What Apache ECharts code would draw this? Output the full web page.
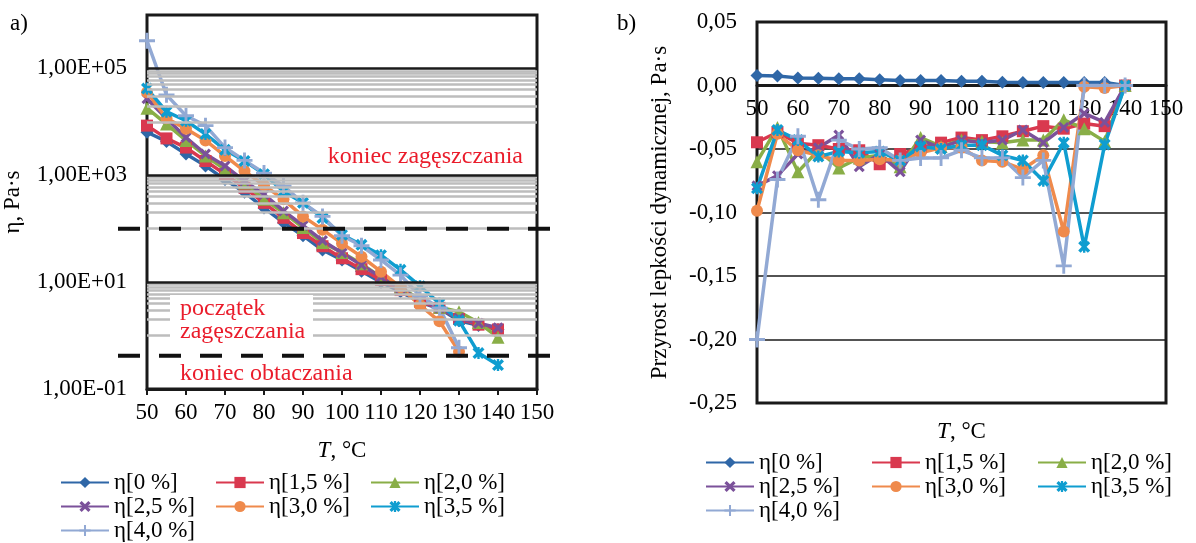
<!DOCTYPE html>
<html>
<head>
<meta charset="utf-8">
<script src="https://cdn.jsdelivr.net/npm/echarts@6/dist/echarts.min.js"></script>
<style>
  html, body { margin: 0; padding: 0; background: #fff; }
  #chart { width: 1196px; height: 543px; }
</style>
</head>
<body>
<div id="chart"></div>
<script>
// temperatura, °C
var temps = [50, 55, 60, 65, 70, 75, 80, 85, 90, 95, 100, 105, 110, 115, 120, 125, 130, 135, 140];

var seriesNames = ['η[0 %]', 'η[1,5 %]', 'η[2,0 %]', 'η[2,5 %]', 'η[3,0 %]', 'η[3,5 %]', 'η[4,0 %]'];

// a) lepkosc dynamiczna, Pa·s
var eta0  = [6400, 4300, 2500, 1500, 830, 480, 245, 130, 74, 40, 26, 16, 10, 6.6, 4.2, 3.2, 1.9, 1.55, 1.3];
var eta15 = [8500, 4900, 3300, 1850, 1050, 585, 305, 160, 83, 47, 28, 17.5, 11, 7.1, 4.3, 3.3, 2.05, 1.6, 1.3];
var eta20 = [18000, 9100, 4500, 2300, 1300, 720, 355, 200, 105, 55, 36, 22, 12.4, 8, 4.7, 3.4, 2.8, 1.75, 0.93];
var eta25 = [27000, 11500, 5100, 2500, 1500, 780, 440, 215, 115, 60, 35, 21, 12.4, 7.6, 4.6, 3.3, 2.1, 1.7, 1.4];
var eta30 = [36000, 11700, 7400, 4500, 2300, 1200, 650, 355, 170, 96, 53, 30, 15.7, 8, 3.7, 1.85, 0.5, null, null];
var eta35 = [42000, 15500, 10500, 5900, 3000, 1860, 1050, 500, 305, 159, 77, 50, 32, 17, 8.4, 4.0, 1.9, 0.47, 0.28];
var eta40 = [330000, 32000, 13000, 8500, 3300, 1900, 1100, 630, 305, 170, 74, 48, 26, 13.5, 5.5, 3.3, 0.59, null, null];

// b) przyrost lepkosci dynamicznej, Pa·s
var d0  = [0.0079, 0.0074, 0.006, 0.0058, 0.0053, 0.0053, 0.0045, 0.0039, 0.0039, 0.0039, 0.0034, 0.0034, 0.0026, 0.0024, 0.0024, 0.0024, 0.0024, 0.0024, 0];
var d15 = [-0.0447, -0.0368, -0.0455, -0.047, -0.050, -0.051, -0.062, -0.054, -0.049, -0.045, -0.041, -0.043, -0.040, -0.036, -0.032, -0.034, -0.030, -0.032, 0];
var d20 = [-0.060, -0.033, -0.068, -0.051, -0.065, -0.057, -0.055, -0.064, -0.041, -0.048, -0.043, -0.044, -0.045, -0.043, -0.043, -0.027, -0.034, -0.044, 0];
var d25 = [-0.079, -0.071, -0.054, -0.049, -0.039, -0.064, -0.054, -0.068, -0.043, -0.049, -0.043, -0.045, -0.043, -0.035, -0.045, -0.033, -0.022, -0.029, 0];
var d30 = [-0.0986, -0.038, -0.051, -0.055, -0.059, -0.059, -0.058, -0.059, -0.053, -0.049, -0.049, -0.059, -0.060, -0.066, -0.055, -0.115, -0.001, -0.002, 0];
var d35 = [-0.081, -0.035, -0.043, -0.056, -0.052, -0.053, -0.052, -0.059, -0.048, -0.050, -0.047, -0.047, -0.055, -0.059, -0.075, -0.045, -0.127, -0.0465, 0];
var d40 = [-0.200, -0.074, -0.040, -0.090, -0.043, -0.050, -0.049, -0.059, -0.057, -0.057, -0.051, -0.057, -0.057, -0.0725, -0.059, -0.142, 0, 0, 0];

// podzialka osi a)
var logTickValues = [0.1, 10, 1000, 100000];
var logTickLabels = ['1,00E-01', '1,00E+01', '1,00E+03', '1,00E+05'];
var majorGrid = [10, 1000, 100000];
var minorGridDecades = [1, 100, 10000];
var minorGridSteps = [1, 2, 3, 4, 5, 6, 7, 8, 9];
var limitLines = [100, 0.42];

var colors = ['#2f67a7', '#d9394f', '#89ae47', '#7b519a', '#ef8a4c', '#0f9dd0', '#92a9d4'];
var X_PATH = 'path://M2,0L5,3L8,0L10,2L7,5L10,8L8,10L5,7L2,10L0,8L3,5L0,2Z';
var STAR_PATH = 'path://M2,0L5,3L8,0L10,2L7,5L10,8L8,10L5,7L2,10L0,8L3,5L0,2ZM4,0H6V10H4Z';
var PLUS_PATH = 'path://M4.1,0H5.9V4.1H10V5.9H5.9V10H4.1V5.9H0V4.1H4.1Z';
var symbols = ['diamond', 'rect', 'triangle', X_PATH, 'circle', STAR_PATH, PLUS_PATH];
var symbolSizes = [13, 12, 13, 11, 12, 12, 16];

var FONT = 'Liberation Serif';
var FS = 23;

var chart = echarts.init(document.getElementById('chart'));

function pairs(arr) {
  return temps.map(function (t, i) { return [t, arr[i]]; });
}

function makeSeries(i, arr, gridIdx) {
  return {
    name: seriesNames[i],
    type: 'line',
    xAxisIndex: gridIdx,
    yAxisIndex: gridIdx,
    data: pairs(arr),
    symbol: symbols[i],
    symbolSize: symbolSizes[i],
    showSymbol: true,
    connectNulls: false,
    z: 3,
    color: colors[i],
    itemStyle: { color: colors[i] },
    lineStyle: { color: colors[i], width: 3.5 },
    emphasis: { disabled: true },
    animation: false
  };
}

var gridLinesData = [];
minorGridDecades.forEach(function (d) {
  minorGridSteps.forEach(function (s) {
    gridLinesData.push({ yAxis: d * s, lineStyle: { color: '#bdbdbd', width: 2.5, type: 'solid' } });
  });
});
majorGrid.forEach(function (v) {
  gridLinesData.push({ yAxis: v, lineStyle: { color: '#1a1a1a', width: 2.5, type: 'solid' } });
});

function fmtLog(v) {
  for (var i = 0; i < logTickValues.length; i++) {
    if (Math.abs(Math.log10(v) - Math.log10(logTickValues[i])) < 1e-6) return logTickLabels[i];
  }
  return '';
}

var labelStyle = { fontFamily: FONT, fontSize: FS, color: '#000' };

var legendCols = [[0, 3, 6], [1, 4], [2, 5]];
var legends = [];
var leftCols = [60, 215, 370];
var rightCols = [705, 871, 1037];
legendCols.forEach(function (col, c) {
  [[leftCols[c], 471], [rightCols[c], 451]].forEach(function (pos) {
    legends.push({
      orient: 'vertical',
      left: pos[0],
      top: pos[1],
      padding: 0,
      itemGap: 1,
      itemWidth: 48,
      itemHeight: 14,
      selectedMode: false,
      textStyle: { fontFamily: FONT, fontSize: FS, color: '#000', lineHeight: 23 },
      data: col.map(function (k) { return seriesNames[k]; })
    });
  });
});

var series = [{
  type: 'line',
  xAxisIndex: 0,
  yAxisIndex: 0,
  data: [],
  silent: true,
  z: 1,
  animation: false,
  markLine: {
    silent: true,
    symbol: 'none',
    animation: false,
    label: { show: false },
    emphasis: { disabled: true },
    data: gridLinesData
  }
}];
[eta0, eta15, eta20, eta25, eta30, eta35, eta40].forEach(function (a, i) { series.push(makeSeries(i, a, 0)); });
[d0, d15, d20, d25, d30, d35, d40].forEach(function (a, i) { series.push(makeSeries(i, a, 1)); });

var nameRich = { i: { fontFamily: FONT, fontSize: FS, fontStyle: 'italic', color: '#000' } };

var option = {
  backgroundColor: '#fff',
  animation: false,
  textStyle: { fontFamily: FONT },
  legend: legends,
  grid: [
    { left: 146, top: 15, width: 391, height: 374, show: true, borderColor: '#1a1a1a', borderWidth: 3, backgroundColor: 'transparent' },
    { left: 757, top: 22, width: 409, height: 381, show: true, borderColor: '#1a1a1a', borderWidth: 3, backgroundColor: 'transparent' }
  ],
  xAxis: [
    {
      type: 'value', gridIndex: 0, min: 50, max: 150, interval: 10,
      axisLine: { lineStyle: { color: '#1a1a1a', width: 3 } },
      axisTick: { show: true, length: 6, lineStyle: { color: '#1a1a1a', width: 2 } },
      axisLabel: Object.assign({ margin: 12 }, labelStyle),
      splitLine: { show: false },
      name: '{i|T}, °C', nameLocation: 'middle', nameGap: 50,
      nameTextStyle: Object.assign({ rich: nameRich }, labelStyle)
    },
    {
      type: 'value', gridIndex: 1, min: 50, max: 150, interval: 10, position: 'bottom', offset: 0,
      axisLine: { onZero: false, lineStyle: { color: '#1a1a1a', width: 3 } },
      axisTick: { show: false },
      axisLabel: Object.assign({ margin: 12 }, labelStyle),
      splitLine: { show: false }
    }
  ],
  yAxis: [
    {
      type: 'log', gridIndex: 0, logBase: 10, min: 0.1, max: 1000000,
      axisLine: { show: false },
      axisTick: { show: false },
      splitLine: { show: false },
      axisLabel: Object.assign({ margin: 20, formatter: fmtLog }, labelStyle),
      name: 'η, Pa·s', nameLocation: 'middle', nameGap: 123, nameMoveOverlap: false,
      nameTextStyle: labelStyle
    },
    {
      type: 'value', gridIndex: 1, min: -0.25, max: 0.05, interval: 0.05,
      axisLine: { show: false },
      axisTick: { show: false },
      splitLine: { show: true, lineStyle: { color: '#1a1a1a', width: 1.5 } },
      axisLabel: Object.assign({
        margin: 20,
        formatter: function (v) {
          if (Math.abs(v) < 1e-9) return '0,00';
          return v.toFixed(2).replace('.', ',');
        }
      }, labelStyle),
      name: 'Przyrost lepkości dynamicznej, Pa·s', nameLocation: 'middle', nameGap: 86, nameMoveOverlap: false,
      nameTextStyle: labelStyle
    }
  ],
  series: series
};

chart.setOption(option);

// os x wykresu b) przesunieta na poziom zera
var bottomY = chart.convertToPixel({ yAxisIndex: 1 }, -0.25);
var zeroY = chart.convertToPixel({ yAxisIndex: 1 }, 0);
var midX = chart.convertToPixel({ xAxisIndex: 1 }, 100);
chart.setOption({ xAxis: [{}, { offset: zeroY - bottomY }] });

// linie graniczne i opisy
var red = '#ea1c2b';
var F = FS + 'px "Liberation Serif"';
var FA = '24px "Liberation Serif"';
var graphics = [
  { type: 'text', left: 10, top: 12, z: 100, style: { text: 'a)', font: F, fill: '#000' } },
  { type: 'text', left: 617, top: 12, z: 100, style: { text: 'b)', font: F, fill: '#000' } },
  { type: 'rect', z: 99, shape: { x: 170, y: 295, width: 143, height: 42 }, style: { fill: '#fff' } },
  { type: 'text', x: 523, y: 157, z: 100, style: { text: 'koniec zagęszczania', font: FA, fill: red, align: 'right', verticalAlign: 'middle' } },
  { type: 'text', x: 180, y: 309, z: 100, style: { text: 'początek', font: FA, fill: red, verticalAlign: 'middle' } },
  { type: 'text', x: 180, y: 332, z: 100, style: { text: 'zagęszczania', font: FA, fill: red, verticalAlign: 'middle' } },
  { type: 'text', x: 180, y: 374, z: 100, style: { text: 'koniec obtaczania', font: FA, fill: red, verticalAlign: 'middle' } }
];
limitLines.forEach(function (v) {
  var py = chart.convertToPixel({ yAxisIndex: 0 }, v);
  graphics.push({
    type: 'line', z: 98,
    shape: { x1: 118, y1: py, x2: 553, y2: py },
    style: { stroke: '#111', lineWidth: 4, lineDash: [22, 19] }
  });
});
// nazwa osi x wykresu b) pod dolna krawedzia
graphics.push({
  type: 'text', x: midX, y: bottomY + 29, z: 100,
  style: { text: '{i|T}, °C', font: F, fill: '#000', align: 'center', verticalAlign: 'middle', rich: nameRich }
});
chart.setOption({ graphic: graphics });
</script>
</body>
</html>
